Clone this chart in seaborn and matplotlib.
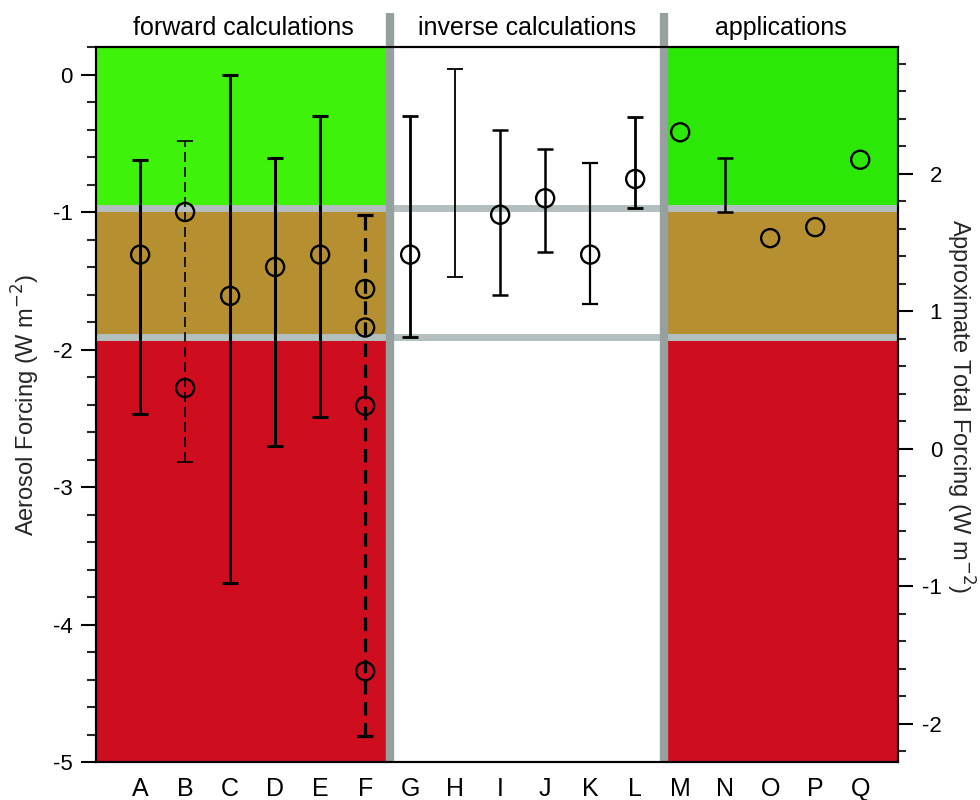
import matplotlib
matplotlib.use("Agg")
import matplotlib.pyplot as plt
import matplotlib.transforms as mtransforms
from matplotlib.ticker import MultipleLocator, FixedLocator
import seaborn as sns

# ---- data -------------------------------------------------------------
categories = list("ABCDEFGHIJKLMNOPQ")
group_names = ["forward calculations", "inverse calculations", "applications"]

# central estimates of aerosol forcing (W m-2), open circles
point_cat = ["A", "B", "B", "C", "D", "E", "F", "F", "F", "F",
             "G", "I", "J", "K", "L", "M", "O", "P", "Q"]
point_val = [-1.31, -1.00, -2.28, -1.61, -1.40, -1.31, -1.56, -1.84, -2.41, -4.34,
             -1.31, -1.02, -0.90, -1.31, -0.76, -0.42, -1.19, -1.11, -0.62]

# uncertainty ranges (W m-2)
range_cat = ["A", "B", "C", "D", "E", "F", "G", "H", "I", "J", "K", "L", "N"]
range_low = [-2.47, -2.82, -3.70, -2.70, -2.49, -4.81, -1.91, -1.47, -1.60, -1.29, -1.67, -0.97, -1.00]
range_high = [-0.62, -0.48, 0.00, -0.61, -0.30, -1.02, -0.30, 0.04, -0.40, -0.54, -0.64, -0.31, -0.61]

# band limits on the aerosol axis: red below, tan between, green above
band_limits = [-1.91, -0.97]
# total forcing = aerosol forcing + this offset
total_offset = 2.72

# ---- styling ----------------------------------------------------------
range_style = {
    "A": dict(lw=2.2, ls="-"), "B": dict(lw=1.2, ls=(0, (6, 3))),
    "C": dict(lw=2.2, ls="-"), "D": dict(lw=2.2, ls="-"),
    "E": dict(lw=2.2, ls="-"), "F": dict(lw=2.3, ls=(0, (4.2, 2.4))),
    "G": dict(lw=2.0, ls="-"), "H": dict(lw=1.3, ls="-"),
    "I": dict(lw=1.8, ls="-"), "J": dict(lw=1.8, ls="-"),
    "K": dict(lw=1.6, ls="-"), "L": dict(lw=2.0, ls="-"),
    "N": dict(lw=1.8, ls="-"),
}
green_left, green_right = "#3EF20A", "#2CE806"
tan, red = "#B68F30", "#CE0E1F"
hline_gray, vline_gray = "#B3BFBF", "#95A09F"

sns.set_theme(style="white")
plt.rcParams["font.family"] = ["Liberation Sans", "DejaVu Sans"]
plt.rcParams["axes.unicode_minus"] = False

fig = plt.figure(figsize=(9.8, 8), dpi=100)
ax = fig.add_axes([96 / 980, 38 / 800, 802 / 980, 715 / 800])

x_lo, x_hi = -0.98, 16.84
y_lo, y_hi = -5.0, 0.2
seps = [5.55, 11.65]

# coloured bands for the forward and application panels
for x0, x1, green in [(x_lo, seps[0], green_left), (seps[1], x_hi, green_right)]:
    ax.fill_between([x0, x1], band_limits[1], y_hi, color=green, lw=0, zorder=0)
    ax.fill_between([x0, x1], band_limits[0], band_limits[1], color=tan, lw=0, zorder=0)
    ax.fill_between([x0, x1], y_lo, band_limits[0], color=red, lw=0, zorder=0)

for b in band_limits:
    ax.axhline(b, color=hline_gray, lw=5, zorder=1)

trans = mtransforms.blended_transform_factory(ax.transData, ax.transAxes)
for s in seps:
    ax.plot([s, s], [0, 1.0476], transform=trans, color=vline_gray, lw=6,
            solid_capstyle="butt", clip_on=False, zorder=2)

# uncertainty ranges
for c, lo, hi in zip(range_cat, range_low, range_high):
    st = range_style[c]
    xi = categories.index(c)
    mid = (lo + hi) / 2
    _, caps, bars = ax.errorbar([xi], [mid], yerr=[[mid - lo], [hi - mid]], fmt="none",
                                ecolor="black", elinewidth=st["lw"], capsize=6,
                                capthick=st["lw"], zorder=3)
    bars[0].set_linestyle(st["ls"])

# central estimates drawn as open circles
n_before = len(ax.collections)
sns.stripplot(x=point_cat, y=point_val, order=categories, jitter=False, ax=ax,
              size=13, marker="o", color="black", linewidth=1.7,
              edgecolor="black", zorder=4)
for coll in ax.collections[n_before:]:
    coll.set_facecolor("none")
    coll.set_edgecolor("black")
    coll.set_linewidth(1.7)

ax.set_xlim(x_lo, x_hi)
ax.set_ylim(y_lo, y_hi)
ax.set_xticks(range(len(categories)))
ax.set_xticklabels(categories)
ax.set_xlabel("")
ax.set_ylabel("")
ax.set_yticks([-5, -4, -3, -2, -1, 0])
ax.yaxis.set_minor_locator(MultipleLocator(0.2))
ax.tick_params(axis="x", length=0, pad=11, labelsize=18, colors="black")
ax.tick_params(axis="y", which="major", left=True, length=10.8, width=1.5,
               direction="out", labelsize=16, pad=6, colors="black")
ax.tick_params(axis="y", which="minor", left=True, length=6.5, width=1.5, direction="out")

ax2 = ax.twinx()
ax2.set_ylim(y_lo + total_offset, y_hi + total_offset)
ax2.yaxis.set_major_locator(FixedLocator([-2, -1, 0, 1, 2]))
ax2.yaxis.set_minor_locator(MultipleLocator(0.2))
ax2.tick_params(axis="y", which="major", right=True, length=10.8, width=1.5,
                direction="out", labelsize=16, pad=21, colors="black")
ax2.tick_params(axis="y", which="minor", right=True, length=6, width=1.5, direction="out")
ax2.set_yticklabels(["-2", "-1", "0", "1", "2"])
plt.setp(ax2.get_yticklabels(), ha="right")

for a in (ax, ax2):
    for sp in a.spines.values():
        sp.set_color("black")
        sp.set_linewidth(1.5)
    a.grid(False)

# group headings
centers = [(x_lo + seps[0]) / 2, (seps[0] + seps[1]) / 2, (seps[1] + x_hi) / 2]
for cx, name in zip(centers, group_names):
    ax.text(cx, 1.027, name, transform=trans, ha="center", va="center",
            fontsize=18, color="black")

fig.text(26 / 980, 1 - 405 / 800, "Aerosol Forcing (W m$^{-2}$)", rotation=90,
         ha="center", va="center", fontsize=17)
fig.text(960 / 980, 1 - 406 / 800, "Approximate Total Forcing (W m$^{-2}$)", rotation=270,
         ha="center", va="center", fontsize=17)

fig.savefig("out.png", dpi=100, facecolor="white")
